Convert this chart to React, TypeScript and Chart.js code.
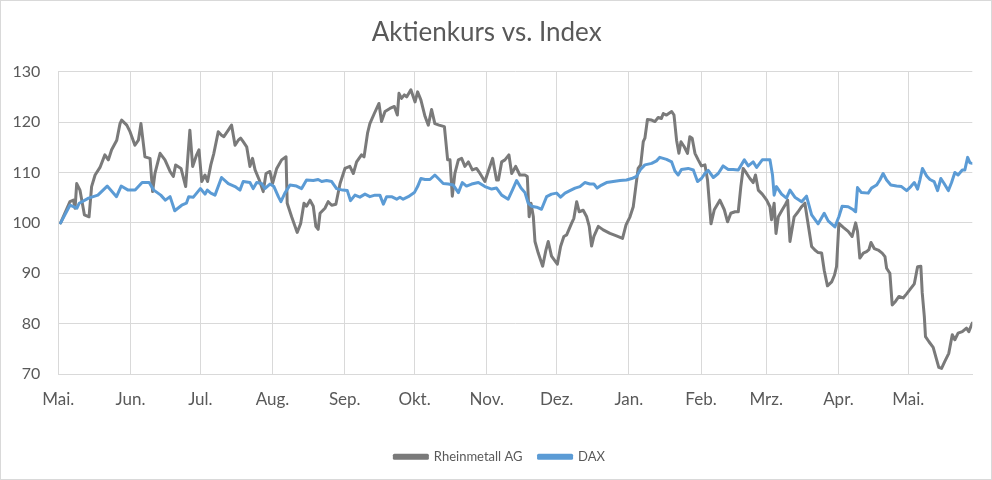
import { useEffect, useRef } from "react"
import { Chart, registerables } from "chart.js"

Chart.register(...registerables)

// month ticks: day offset from 1 May
const monthLabels = ["Mai.", "Jun.", "Jul.", "Aug.", "Sep.", "Okt.", "Nov.", "Dez.", "Jan.", "Feb.", "Mrz.", "Apr.", "Mai."]
const monthStarts = [0, 31, 61, 92, 123, 153, 184, 214, 245, 276, 304, 335, 365]

const rheinDays = [
  1, 5, 6.5, 7.2, 7.9, 9.3, 11.2, 12.2, 13.2, 14.3, 15.8, 17.9, 20, 21.5, 22.9, 25.1, 26.5, 27.2, 29.4, 30.8,
  32.9, 34.4, 35.5, 37.2, 39.4, 40.5, 41.5, 43.7, 45.8, 48, 49.4, 50.4, 52.7, 54.7, 56.5, 57.7, 59.4, 60.4, 61.6, 63,
  64.1, 65.5, 66.8, 68.7, 70.1, 71.1, 73, 74.4, 75.9, 77.3, 78.3, 79.4, 80.9, 82.3, 83.4, 84.5, 86.3, 88, 89.2, 90.9,
  92, 93.8, 95.9, 97.8, 98.3, 100.2, 102.6, 104.1, 105.5, 106.6, 108.1, 109.5, 110.6, 111.6, 112.4, 114.5, 115.9, 117.4, 119.2, 121,
  123.1, 125.2, 126.7, 128.1, 130.2, 131.3, 132.8, 133.8, 135.7, 137.7, 138.8, 140.3, 142.4, 144.3, 145.6, 146.3, 147.4, 148.6, 149.6, 151.4,
  153.2, 154.3, 155.7, 157.5, 158.9, 160.3, 161.7, 163.5, 165.8, 167.2, 168.2, 169.2, 170.3, 171.8, 173.2, 174.6, 176.1, 177.8, 179.6, 181.1,
  183.2, 184.6, 186.5, 188.2, 189, 190.4, 191.8, 193.5, 194.7, 196.4, 198.2, 200.4, 201.4, 202.2, 203, 204, 204.7, 206.1, 208, 209.4,
  210.4, 211.8, 214.3, 215.7, 217.1, 218.3, 220.4, 221.4, 222.6, 223.7, 225.4, 226.9, 228, 229, 230, 231.9, 234, 236.9, 239.7, 242.3,
  243.8, 245.5, 246.9, 248, 249, 250.1, 251.2, 251.9, 253, 254.8, 256.2, 257.6, 259, 259.8, 261.2, 263.4, 264.4, 265.5, 266.5, 267.4,
  268.8, 270.2, 271.2, 272.2, 273.4, 274.8, 276.2, 277.7, 278.8, 280.3, 281.7, 284.1, 286, 287.4, 288.8, 290.6, 292, 293.1, 294.1, 295.6,
  297, 298.4, 299.4, 300.6, 302.3, 304.2, 305.6, 306.3, 307.4, 308.2, 309.2, 310.9, 312.3, 313.2, 314.2, 316, 317.7, 319.2, 320.6, 321.7,
  323.5, 324.9, 326.3, 327.8, 328.9, 330.3, 332.1, 333.3, 334.2, 335.2, 337.1, 339.2, 340.9, 342.4, 343.2, 344.2, 345.7, 347.1, 348.1, 349,
  350.4, 352.1, 353.8, 355, 355.7, 357.1, 358.1, 359.5, 361, 362.8, 364.3, 366.1, 367.6, 369, 370.4, 371, 371.9, 372.4, 373.9, 375.7,
  377.2, 378.1, 379.3, 380.7, 382.4, 383.9, 385, 386.4, 388.2, 390, 391, 392.5,
]
const rheinValues = [
  100, 104.2, 104.5, 102.9, 107.8, 106.5, 101.6, 101.4, 101.2, 107.2, 109.5, 111, 113.5, 112.5, 114.5, 116.4, 119.7, 120.4, 119.4, 118.1,
  115.4, 116.4, 119.7, 113.1, 112.8, 106.2, 109.8, 113.8, 112.5, 110.2, 109.2, 111.5, 110.8, 107.2, 118.4, 111.2, 113.5, 114.5, 108.2, 109.5,
  108.2, 111.5, 113.8, 118.1, 117.4, 117.1, 118.4, 119.4, 115.4, 116.4, 116.8, 116.1, 115.1, 111.2, 112.8, 110.5, 108.5, 106.2, 109.8, 110.2,
  107.8, 110.8, 112.5, 113.1, 103.9, 101.2, 98.1, 99.9, 103.9, 103.3, 104.5, 103.3, 99.3, 98.7, 101.9, 102.9, 104.2, 103.5, 103.7, 107.8,
  110.8, 111.2, 109.8, 112.1, 113.5, 113.1, 117.8, 119.7, 121.7, 123.7, 120.1, 122.1, 122.7, 123.1, 121.4, 125.7, 124.7, 125.4, 125, 126.4,
  124, 126, 124.4, 121.1, 119.4, 122.5, 119.7, 119.4, 119.1, 112.5, 112.5, 105.3, 109.8, 112.5, 112.8, 111.2, 112.1, 110.5, 110.8, 109.8,
  108.2, 110.2, 112.8, 108.5, 108.5, 112.1, 112.5, 113.5, 109.8, 111.2, 109.5, 109.5, 109.2, 101.2, 103.9, 101.2, 96.3, 94, 91.4, 94.6,
  96.3, 93.4, 91.8, 95.3, 97.3, 97.6, 99.9, 100.9, 104.2, 102.2, 102.5, 101.2, 99.3, 95.4, 97.3, 99.3, 98.6, 97.9, 97.4, 96.9,
  99.6, 101.2, 103.2, 107.2, 110.8, 111.5, 116.1, 116.8, 120.5, 120.4, 120.1, 120.9, 120.7, 121.7, 121.4, 122.1, 121.4, 116.4, 113.8, 116.1,
  115.1, 113.8, 117.1, 116.8, 113.8, 112.5, 111.3, 111.5, 108.5, 99.8, 102.6, 104.5, 102.6, 100.2, 101.9, 102.2, 102.2, 107.2, 110.8, 109.8,
  108.8, 108, 109.5, 106.5, 105.7, 104.5, 103.2, 100.6, 103.9, 97.9, 101.2, 102.6, 103.7, 104.5, 96.3, 101.2, 102.2, 103.2, 103.9, 100.6,
  95.3, 94.6, 94.1, 94, 90.6, 87.5, 88.3, 89.6, 91.3, 99.9, 99.1, 98.3, 97.3, 100, 98.3, 93, 94, 94.3, 94.7, 96.1,
  94.9, 94.6, 94, 93.3, 91, 90, 83.7, 84.4, 85.4, 85.1, 85.9, 87, 87.9, 91.3, 91.4, 86.1, 81.4, 77.4, 76.4, 75.3,
  72.8, 71.3, 71.1, 72.5, 74.1, 77.8, 76.8, 78.1, 78.4, 79.1, 78.4, 80.1,
]

const daxDays = [
  1, 5, 8, 9, 13, 17, 21, 25, 27, 30, 33, 36, 39, 41, 44, 46, 48, 50, 53, 55,
  56, 58, 61, 63, 64, 65.5, 67.3, 70.1, 73, 75.9, 78, 79.4, 82.3, 83.7, 85.2, 87.3, 88.7, 90.9, 92.6, 94.5,
  95.6, 97.3, 99.5, 102.3, 104.5, 106.6, 109.5, 111.6, 113.1, 115.2, 117.4, 119.5, 122.1, 124.1, 125.5, 127.4, 129.5, 131.7, 133.8, 136,
  138.1, 139.6, 141, 143.1, 145.3, 146.7, 148.1, 150.3, 152.9, 154.3, 155.7, 157.5, 159.6, 161.7, 163.2, 165.3, 167.5, 169.6, 171.8, 173.5,
  175.3, 177.5, 180.4, 183.2, 186.1, 188.2, 190.4, 193.2, 195, 196.8, 198.7, 200.4, 201.8, 203.2, 205.4, 207.5, 209.7, 211.8, 214, 215.7,
  217.6, 219.7, 221.9, 224, 226.1, 228.3, 230, 231.4, 233.3, 235.4, 238.3, 241.2, 244, 246.2, 248.3, 250, 251.9, 254.8, 256.9, 258.3,
  261.2, 263.4, 264.8, 266.2, 267.6, 270.5, 272.7, 274.5, 276.2, 277.7, 279.1, 281.3, 283.4, 285.5, 287.7, 289.8, 292, 294.6, 296.3, 298.4,
  299.9, 302.3, 305.6, 306.7, 307.4, 308.4, 310.6, 312.7, 314.2, 316.3, 319.2, 321.3, 323.5, 326.3, 328.9, 330.6, 333.5, 335.2, 336.6, 339.2,
  341.4, 342.4, 343.2, 344.9, 347.8, 349.2, 351.4, 352.8, 354.2, 355.7, 357.5, 360, 362.1, 364.3, 366.1, 367.6, 369, 370, 371.1, 372.9,
  374.3, 376.1, 377.6, 379, 380.4, 382.2, 383.6, 385, 386.4, 388.2, 389.3, 390.5, 391.5, 392.5,
]
const daxValues = [
  100, 103.5, 102.9, 103.9, 104.9, 105.5, 107.3, 105.2, 107.3, 106.5, 106.5, 108, 108, 106.5, 105.5, 104.5, 105.2, 102.4, 103.5, 103.9,
  105.2, 105.1, 106.8, 105.7, 106.5, 105.9, 105.5, 109, 107.8, 107.2, 106.5, 108.2, 108, 106.8, 108, 107.8, 106.8, 107.7, 107.2, 105.2,
  104.2, 105.9, 107.5, 107.3, 106.8, 108.5, 108.4, 108.6, 108.2, 108.4, 108.2, 106.8, 106.5, 106.4, 104.4, 105.5, 105.1, 105.7, 105.2, 105.5,
  105.5, 103.7, 105.2, 105.2, 104.7, 105.1, 104.7, 105.2, 106, 107.2, 108.8, 108.6, 108.6, 109.5, 108.8, 107.8, 107.7, 107.5, 106, 108,
  107.3, 107.7, 108, 107.2, 106.7, 106.9, 105.5, 104.7, 106.5, 108.4, 106.9, 106, 103.9, 103.3, 103.1, 102.7, 105.2, 105.7, 105.9, 105.1,
  105.9, 106.4, 106.9, 107.2, 108, 107.7, 107.7, 106.9, 107.5, 108, 108.2, 108.4, 108.5, 108.8, 109.2, 110.6, 111.5, 111.8, 112.3, 113,
  112.6, 112.1, 110.3, 109.5, 110.6, 110.8, 110.5, 108.2, 108.8, 109.8, 110.4, 109, 109.8, 111.3, 110.6, 110.6, 110.5, 112.5, 111.3, 112.1,
  111, 112.5, 112.5, 109.5, 105.5, 107.2, 105.7, 104.9, 106.5, 105.1, 104.2, 105.3, 101.6, 99.8, 101.9, 100.4, 99.2, 101.2, 103.3, 103.2,
  102.6, 102.2, 107, 106, 105.9, 106.9, 107.5, 108.5, 109.8, 108.5, 107.5, 107.3, 107.2, 106.4, 107.2, 108, 106.7, 108.5, 110.8, 109.3,
  108.6, 108.2, 106.4, 108.8, 107.8, 106.4, 108, 110, 109.5, 110.5, 110.5, 113, 111.9, 111.8,
]

const textColor = "#595959"
const gridColor = "#d9d9d9"

// nudge the bottom legend so it sits centred under the whole chart like Excel does
const legendShift = {
  id: "legendShift",
  afterLayout(chart: Chart) {
    const legend = chart.legend
    if (legend) {
      legend.left += 13
      legend.right += 13
    }
  },
}

export default function App() {
  const chartRef = useRef<HTMLCanvasElement>(null)
  const chartInstance = useRef<Chart | null>(null)

  useEffect(() => {
    document.body.style.margin = "0"
    if (!chartRef.current) return
    const ctx = chartRef.current.getContext("2d")
    if (!ctx) return

    if (chartInstance.current) {
      chartInstance.current.destroy()
    }

    chartInstance.current = new Chart(ctx, {
      type: "line",
      data: {
        datasets: [
          {
            label: "Rheinmetall AG",
            data: rheinDays.map((d, i) => ({ x: d, y: rheinValues[i] })),
            borderColor: "#7a7a7a",
            backgroundColor: "#7a7a7a",
            borderWidth: 3,
            pointRadius: 0,
            borderJoinStyle: "round",
            borderCapStyle: "round",
            order: 1,
          },
          {
            label: "DAX",
            data: daxDays.map((d, i) => ({ x: d, y: daxValues[i] })),
            borderColor: "#5b9bd5",
            backgroundColor: "#5b9bd5",
            borderWidth: 3,
            pointRadius: 0,
            borderJoinStyle: "round",
            borderCapStyle: "round",
            order: 0,
          },
        ],
      },
      options: {
        responsive: false,
        animation: false,
        layout: { padding: { left: 0, right: 18.7, top: 0, bottom: 5.8 } },
        plugins: {
          title: {
            display: true,
            text: "Aktienkurs vs. Index",
            color: textColor,
            font: { family: "Lato", size: 26, weight: "normal" },
            padding: { top: 16.4, bottom: 23.1 },
          },
          legend: {
            position: "bottom",
            labels: {
              boxWidth: 33,
              boxHeight: 3,
              color: textColor,
              font: { family: "Lato", size: 13 },
              padding: 16,
              sort: (a, b) => (a.datasetIndex ?? 0) - (b.datasetIndex ?? 0),
            },
          },
          tooltip: { enabled: false },
        },
        scales: {
          x: {
            type: "linear",
            min: 0,
            max: 392.5,
            afterBuildTicks: (scale) => {
              scale.ticks = monthStarts.map((v) => ({ value: v }))
            },
            afterFit: (scale) => {
              scale.height = 60.2
            },
            ticks: {
              callback: (_v, i) => monthLabels[i],
              autoSkip: false,
              maxRotation: 0,
              color: textColor,
              font: { family: "Lato", size: 17 },
              padding: 15,
            },
            grid: { color: gridColor, drawTicks: false },
            border: { color: gridColor },
          },
          y: {
            min: 70,
            max: 130,
            afterFit: (scale) => {
              scale.width = 57.3
            },
            ticks: {
              stepSize: 10,
              color: textColor,
              font: { family: "Lato", size: 16 },
              padding: 18,
            },
            grid: { color: gridColor, drawTicks: false },
            border: { color: gridColor },
          },
        },
      },
      plugins: [legendShift],
    })

    return () => {
      if (chartInstance.current) {
        chartInstance.current.destroy()
        chartInstance.current = null
      }
    }
  }, [])

  return (
    <div
      style={{
        width: 992,
        height: 480,
        boxSizing: "border-box",
        border: "1px solid #d9d9d9",
        background: "#fff",
      }}
    >
      <canvas ref={chartRef} width={990} height={478} style={{ display: "block" }} />
    </div>
  )
}
